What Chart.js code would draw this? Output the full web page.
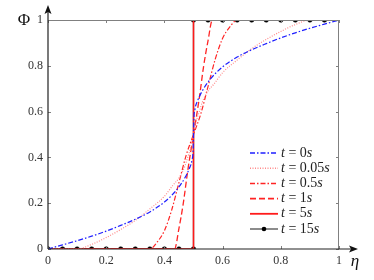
<!DOCTYPE html>
<html>
<head>
<meta charset="utf-8">
<script src="https://cdn.jsdelivr.net/npm/chart.js@4"></script>
<style>
  html, body { margin: 0; padding: 0; background: #fff; }
  #wrap { width: 374px; height: 280px; }
</style>
</head>
<body>
<div id="wrap"><canvas id="chart"></canvas></div>
<script>
// values
const legendTimes = ['0', '0.05', '0.5', '1', '5', '15'];
const xTicks = [0, 0.2, 0.4, 0.6, 0.8, 1];

const eta0 = [0, 0.05, 0.1, 0.15, 0.2, 0.25, 0.3, 0.35, 0.4, 0.44, 0.47, 0.485, 0.495, 0.499, 0.5, 0.501, 0.505, 0.515, 0.53, 0.56, 0.6, 0.65, 0.7, 0.75, 0.8, 0.85, 0.9, 0.95, 1];
const phi0 = [0, 0.018, 0.036, 0.056, 0.078, 0.103, 0.13, 0.162, 0.205, 0.255, 0.31, 0.35, 0.39, 0.44, 0.5, 0.56, 0.61, 0.65, 0.69, 0.745, 0.795, 0.838, 0.87, 0.897, 0.922, 0.944, 0.964, 0.982, 1];

const eta1 = [0, 0.1, 0.15, 0.2, 0.25, 0.3, 0.35, 0.4, 0.43, 0.45, 0.47, 0.48, 0.49, 0.5, 0.51, 0.52, 0.53, 0.55, 0.57, 0.6, 0.65, 0.7, 0.75, 0.8, 0.85, 0.9, 1];
const phi1 = [0, 0, 0.02, 0.05, 0.085, 0.125, 0.175, 0.23, 0.28, 0.31, 0.36, 0.4, 0.44, 0.5, 0.56, 0.6, 0.64, 0.69, 0.72, 0.77, 0.825, 0.875, 0.915, 0.95, 0.98, 1, 1];

const eta2 = [0, 0.35, 0.375, 0.4, 0.425, 0.45, 0.475, 0.5, 0.525, 0.55, 0.575, 0.6, 0.625, 0.65, 1];
const phi2 = [0, 0, 0.03, 0.08, 0.17, 0.29, 0.41, 0.5, 0.59, 0.71, 0.83, 0.92, 0.97, 1, 1];

const eta3 = [0, 0.435, 0.45, 0.465, 0.48, 0.5, 0.52, 0.535, 0.55, 0.565, 1];
const phi3 = [0, 0, 0.09, 0.2, 0.34, 0.5, 0.66, 0.8, 0.91, 1, 1];

const eta4 = [0, 0.5, 0.5, 1];
const phi4 = [0, 0, 1, 1];

const eta5 = [0, 0.05, 0.1, 0.15, 0.2, 0.25, 0.3, 0.35, 0.4, 0.45, 0.5, 0.5, 0.55, 0.6, 0.65, 0.7, 0.75, 0.8, 0.85, 0.9, 0.95, 1];
const phi5 = [0, 0, 0, 0, 0, 0, 0, 0, 0, 0, 0, 1, 1, 1, 1, 1, 1, 1, 1, 1, 1, 1];

const pts = (xs, ys) => xs.map((x, i) => ({ x: x, y: ys[i] }));

const serif = '"Liberation Serif", "DejaVu Serif", serif';

// line styles, also used for the legend
const styles = [
    { color: '#1f1fff', width: 1.2, dash: [5, 2, 1.5, 2] },
    { color: '#ff8a8a', width: 1.2, dash: [1, 1.5] },
    { color: '#ff2424', width: 1.2, dash: [5, 2, 1.5, 2] },
    { color: '#ff2424', width: 1.3, dash: [6, 3] },
    { color: '#ff1a1a', width: 1.5, dash: [] },
    { color: 'rgba(0,0,0,0.5)', width: 1.5, dash: [] }
];

const series = [[eta0, phi0], [eta1, phi1], [eta2, phi2], [eta3, phi3], [eta4, phi4], [eta5, phi5]];

const datasets = series.map((s, i) => ({
    data: pts(s[0], s[1]),
    showLine: true,
    borderColor: styles[i].color,
    borderWidth: styles[i].width,
    borderDash: styles[i].dash,
    cubicInterpolationMode: i < 4 ? 'monotone' : 'default',
    pointRadius: 0
}));
// markers for t = 15s, none on the last point
datasets[5].pointRadius = eta5.map((x, i) => i === eta5.length - 1 ? 0 : 2.3);
datasets[5].pointBackgroundColor = '#000';
datasets[5].pointBorderColor = '#000';
datasets[5].pointBorderWidth = 0.5;

// frame, inner ticks, arrows, axis names and legend
const decor = {
    id: 'decor',
    afterDatasetsDraw(chart) {
        const ctx = chart.ctx;
        const a = chart.chartArea;
        const xs = chart.scales.x, ys = chart.scales.y;
        ctx.save();
        ctx.globalAlpha = 1;
        ctx.setLineDash([]);

        // top / right frame in gray
        ctx.strokeStyle = '#808080';
        ctx.lineWidth = 1;
        ctx.beginPath();
        ctx.moveTo(a.left, a.top + 0.5); ctx.lineTo(a.right, a.top + 0.5);
        ctx.moveTo(a.right - 0.5, a.top); ctx.lineTo(a.right - 0.5, a.bottom);
        ctx.stroke();

        // inner ticks
        ctx.beginPath();
        xTicks.forEach(v => {
            const px = Math.round(xs.getPixelForValue(v)) + 0.5;
            ctx.moveTo(px, a.bottom); ctx.lineTo(px, a.bottom - 3);
            ctx.moveTo(px, a.top); ctx.lineTo(px, a.top + 3);
        });
        xTicks.forEach(v => {
            const py = Math.round(ys.getPixelForValue(v)) + 0.5;
            ctx.moveTo(a.left, py); ctx.lineTo(a.left + 3, py);
            ctx.moveTo(a.right, py); ctx.lineTo(a.right - 3, py);
        });
        ctx.stroke();

        // axes with arrows
        ctx.strokeStyle = '#222';
        ctx.fillStyle = '#111';
        ctx.lineWidth = 1.2;
        ctx.beginPath();
        ctx.moveTo(a.left, a.bottom); ctx.lineTo(a.left, a.top - 10);
        ctx.moveTo(a.left, a.bottom); ctx.lineTo(a.right + 14, a.bottom);
        ctx.stroke();
        ctx.beginPath();
        ctx.moveTo(a.left, a.top - 15);
        ctx.lineTo(a.left - 3.5, a.top - 6);
        ctx.lineTo(a.left, a.top - 8);
        ctx.lineTo(a.left + 3.5, a.top - 6);
        ctx.closePath();
        ctx.fill();
        ctx.beginPath();
        ctx.moveTo(a.right + 19, a.bottom);
        ctx.lineTo(a.right + 10, a.bottom - 3.5);
        ctx.lineTo(a.right + 12, a.bottom);
        ctx.lineTo(a.right + 10, a.bottom + 3.5);
        ctx.closePath();
        ctx.fill();

        // axis names
        ctx.fillStyle = '#111';
        ctx.textBaseline = 'middle';
        ctx.textAlign = 'center';
        ctx.font = '17px ' + serif;
        ctx.fillText('Φ', 24, 21);
        ctx.font = 'italic 17px ' + serif;
        ctx.fillText('η', 355, 262);

        // legend
        const lx0 = 250, lx1 = 278, ly0 = 153, dy = 15.2;
        styles.forEach((st, i) => {
            const y = ly0 + i * dy;
            ctx.strokeStyle = st.color;
            ctx.lineWidth = st.width + 0.3;
            ctx.setLineDash(st.dash);
            ctx.beginPath();
            ctx.moveTo(lx0, y); ctx.lineTo(lx1, y);
            ctx.stroke();
            ctx.setLineDash([]);
            if (i === styles.length - 1) {
                ctx.fillStyle = '#000';
                ctx.beginPath();
                ctx.arc((lx0 + lx1) / 2, y, 2.3, 0, Math.PI * 2);
                ctx.fill();
            }

            ctx.textAlign = 'left';
            ctx.fillStyle = '#222';
            let x = lx1 + 3;
            const parts = [['t', 'italic '], [' = ', ''], [legendTimes[i], ''], ['s', 'italic ']];
            parts.forEach(p => {
                ctx.font = p[1] + '14px ' + serif;
                ctx.fillText(p[0], x, y);
                x += ctx.measureText(p[0]).width;
            });
        });

        ctx.restore();
    }
};

const ctx = document.getElementById('chart').getContext('2d');
const chart = new Chart(ctx, {
    type: 'scatter',
    data: { datasets: datasets },
    options: {
        responsive: true,
        maintainAspectRatio: false,
        animation: false,
        layout: { padding: { left: 0, right: 35, top: 20, bottom: 0 } },
        plugins: { legend: { display: false }, tooltip: { enabled: false } },
        scales: {
            x: {
                type: 'linear', min: 0, max: 1,
                afterFit: s => { s.height = 31; },
                grid: { display: false, drawTicks: false },
                border: { display: false },
                ticks: {
                    stepSize: 0.2, padding: 5, color: '#333',
                    font: { family: serif, size: 12 },
                    callback: v => String(+v.toFixed(1))
                }
            },
            y: {
                type: 'linear', min: 0, max: 1,
                afterFit: s => { s.width = 48; },
                grid: { display: false, drawTicks: false },
                border: { display: false },
                ticks: {
                    stepSize: 0.2, padding: 5, color: '#333',
                    font: { family: serif, size: 12 },
                    callback: v => String(+v.toFixed(1))
                }
            }
        }
    },
    plugins: [decor]
});
</script>
</body>
</html>
